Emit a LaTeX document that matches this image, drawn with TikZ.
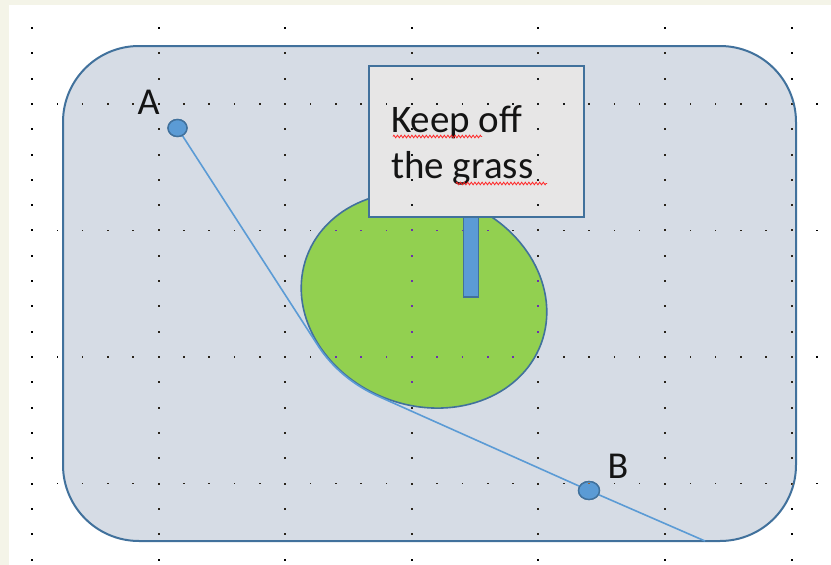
\documentclass[tikz,border=0pt]{standalone}
\usepackage{fontspec}
\setmainfont{Carlito}
\usetikzlibrary{shapes.geometric,decorations.pathmorphing}
\definecolor{cream}{RGB}{244,244,232}
\definecolor{fieldfill}{RGB}{214,220,229}
\definecolor{edgeblue}{RGB}{65,113,156}
\definecolor{signfill}{RGB}{231,230,230}
\definecolor{midblue}{RGB}{91,155,213}
\definecolor{grassgreen}{RGB}{146,208,80}
\tikzset{
  fieldbox/.style={draw=edgeblue, fill=fieldfill, line width=2pt, rounded corners=76pt},
  signbox/.style={draw=edgeblue, fill=signfill, line width=2.2pt, rectangle, inner sep=0pt, minimum width=215pt, minimum height=151pt},
  postbox/.style={draw=edgeblue, fill=midblue, line width=1.6pt, rectangle, inner sep=0pt, minimum width=15pt, minimum height=82pt},
  grassshape/.style={draw=edgeblue, fill=grassgreen, line width=1.6pt},
  route/.style={draw=midblue, line width=1.6pt},
  pin/.style={draw=edgeblue, fill=midblue, line width=1.4pt, ellipse, inner sep=0pt},
  signtext/.style={font=\fontsize{39}{46}\selectfont, inner sep=0pt, anchor=base west, text=black!92},
  lab/.style={font=\fontsize{38}{46}\selectfont, inner sep=0pt, anchor=base, text=black!92},
  squiggle/.style={draw=red!85!white, line width=0.8pt, decorate, decoration={zigzag, segment length=3.6pt, amplitude=1.3pt}},
  griddot/.style={fill=white, blend mode=difference}
}
\begin{document}
\begin{tikzpicture}[x=1pt,y=-1pt]
\useasboundingbox (0,0) rectangle (831,565);
\fill[cream] (0,0) rectangle (831,565);
\fill[white] (9,5) rectangle (831,565);
% field
\draw[fieldbox] (63,46) rectangle (796,541);
% grass ellipse
\coordinate (grass) at (424,300);
\draw[grassshape, rotate around={-20.5:(grass)}] (grass) ellipse [x radius=125, y radius=105.5];
% post and sign
\node[postbox] (post) at (471,256) {};
\node[signbox] (sign) at (476.5,141.5) {};
\node[signtext] (line1) at (391,132) {Keep off};
\node[signtext] (line2) at (391,178) {the grass};
\draw[squiggle] (393,136.5) -- (482,136.5);
\draw[squiggle] (456,183.5) -- (547,183.5);
% pins
\node[pin, minimum width=19pt, minimum height=17pt] (A) at (177.5,128) {};
\node[pin, minimum width=21pt, minimum height=18pt] (B) at (589,490.5) {};
% route
\coordinate (T1) at ({424+126*cos(131.40)*0.93667-106.5*sin(131.40)*0.35021},{300+126*cos(131.40)*0.35021+106.5*sin(131.40)*0.93667});
\coordinate (E) at (705,541);
\draw[route] (A) -- (T1) -- plot[domain=131.40:94.14, samples=40, variable=\t] ({424+126*cos(\t)*0.93667-106.5*sin(\t)*0.35021},{300+126*cos(\t)*0.35021+106.5*sin(\t)*0.93667}) -- (B) -- (E);
\node[pin, minimum width=19pt, minimum height=17pt] at (A) {};
\node[pin, minimum width=21pt, minimum height=18pt] at (B) {};
% labels
\node[lab] (labA) at (148.5,114) {A};
\node[lab] (labB) at (618,478.5) {B};
% dotted grid
\foreach \i in {0,...,6}{
  \foreach \j in {0,...,21}{
    \fill[griddot] ({32+126.6*\i-1},{28+25.31*\j-1}) rectangle ++(2,2);
  }
}
\foreach \r in {3,8,13,18}{
  \foreach \i in {0,...,31}{
    \pgfmathtruncatemacro{\m}{mod(\i,5)}
    \ifnum\m=0\relax\else
      \fill[griddot] ({32+25.32*\i-0.8},{28+25.31*\r-0.8}) rectangle ++(1.6,1.6);
    \fi
  }
}
\end{tikzpicture}
\end{document}
